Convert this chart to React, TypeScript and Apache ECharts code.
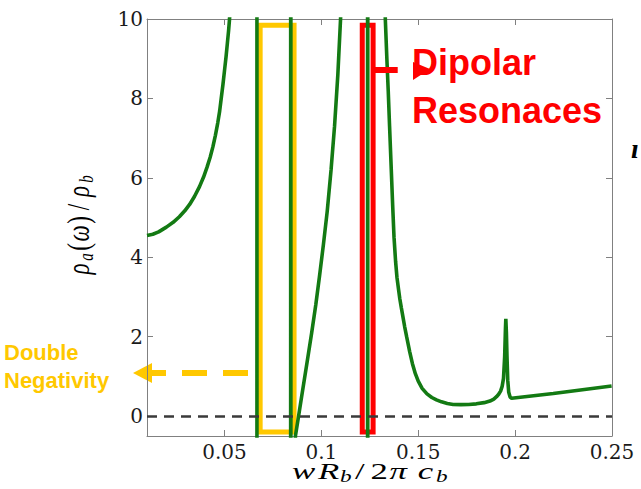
import React, { useEffect, useRef } from "react";
import * as echarts from "echarts";

// ---- data ----
const xValues = [
  0.01, 0.013, 0.016, 0.02, 0.0235, 0.0267, 0.0295, 0.032, 0.0345, 0.0371, 0.0392, 0.041, 0.0426, 0.044,
  0.0453, 0.0465, 0.0475, 0.0483, 0.0492, 0.05, 0.0508, 0.0515, 0.0521, 0.0526, 0.0545,
  0.058, 0.062, 0.0667, 0.0668, 0.0841, 0.0842, 0.0843, 0.0855,
  0.0866, 0.088, 0.09, 0.0925, 0.095, 0.0971, 0.0991, 0.101, 0.103, 0.105, 0.1068, 0.1085, 0.1099,
  0.112, 0.118, 0.1238, 0.1239, 0.124, 0.129, 0.1315,
  0.133, 0.1338, 0.1345, 0.1352, 0.136, 0.1368, 0.1375, 0.1383, 0.139, 0.1398, 0.1405, 0.1413, 0.1421,
  0.143, 0.144, 0.1456, 0.147, 0.1485, 0.15, 0.152, 0.1545, 0.157, 0.1594, 0.162, 0.165, 0.168, 0.172,
  0.176, 0.18, 0.184, 0.187, 0.189, 0.1904, 0.1915, 0.1925, 0.1933, 0.194, 0.1946, 0.195, 0.1952,
  0.1955, 0.1958, 0.1962, 0.1967, 0.1974, 0.1982, 0.2197, 0.2498,
];
const rhoValues = [
  4.55, 4.58, 4.64, 4.76, 4.88, 5.02, 5.17, 5.33, 5.53, 5.78, 6.02, 6.27, 6.52, 6.78,
  7.07, 7.38, 7.68, 8.0, 8.35, 8.7, 9.05, 9.4, 9.7, 10.0, 11.6,
  15, 25, 80, -80, -80, 80, -40, -3,
  -0.5, -0.07, 0.55, 1.32, 2.1, 2.8, 3.55, 4.3, 5.15, 6.2, 7.3, 8.6, 10.0,
  12.5, 25, 80, -80, 80, 25, 13.5,
  10.0, 9.0, 8.2, 7.3, 6.3, 5.3, 4.5, 3.9, 3.5, 3.2, 2.95, 2.72, 2.5,
  2.25, 2.0, 1.62, 1.32, 1.07, 0.88, 0.7, 0.56, 0.47, 0.41, 0.36, 0.32, 0.295, 0.29,
  0.295, 0.31, 0.34, 0.38, 0.43, 0.49, 0.55, 0.63, 0.75, 0.95, 1.5, 2.2, 2.45,
  2.1, 1.5, 0.9, 0.6, 0.48, 0.45, 0.57, 0.76,
];
const xTicks = [0.05, 0.1, 0.15, 0.2, 0.25];
const xTickLabels = ["0.05", "0.1", "0.15", "0.2", "0.25"];
const yTicks = [0, 2, 4, 6, 8, 10];
const yTickLabels = ["0", "2", "4", "6", "8", "10"];
const xRange = [0.01, 0.25];
const yRange = [-0.5, 10];
const doubleNegBandX = [0.0684, 0.0859];
const dipolarBandX = [0.1211, 0.1267];
const bandY = [-0.4, 9.84];
const dipolarPointerX = [0.1267, 0.1394];
const dipolarPointerY = 8.715;

const GREEN = "#137a13";
const YELLOW = "#FFC800";
const RED = "#FF0000";
const AXIS = "#808080";

function labelFor(ticks: number[], labels: string[]) {
  return (v: number) => {
    const i = ticks.findIndex((t) => Math.abs(t - v) < 1e-9);
    return i >= 0 ? labels[i] : "";
  };
}

export default function App() {
  const ref = useRef<HTMLDivElement>(null);
  useEffect(() => {
    if (!ref.current) return;
    const chart = echarts.init(ref.current, undefined, { renderer: "svg" });
    const data = xValues.map((x, i) => [x, rhoValues[i]]);
    const tickFont = { fontFamily: "DejaVu Serif", fontSize: 20, color: "#1a1a1a" };
    const mathI = { fontFamily: "Liberation Serif", fontStyle: "italic", fontSize: 24, lineHeight: 26, color: "#111" };
    const mathN = { fontFamily: "Liberation Serif", fontSize: 24, lineHeight: 26, color: "#111" };
    const mathS = { fontFamily: "Liberation Serif", fontStyle: "italic", fontSize: 16, lineHeight: 12, verticalAlign: "bottom", color: "#111" };

    chart.setOption({
      animation: false,
      backgroundColor: "#ffffff",
      grid: { left: 147, top: 19, width: 465, height: 417, containLabel: false },
      xAxis: [
        {
          type: "value",
          min: xRange[0],
          max: xRange[1],
          position: "bottom",
          axisLine: { show: true, onZero: false, lineStyle: { color: AXIS, width: 1 } },
          axisTick: { show: true, inside: true, length: 6, customValues: xTicks, lineStyle: { color: AXIS } },
          axisLabel: { show: true, customValues: xTicks, margin: 6, formatter: labelFor(xTicks, xTickLabels), ...tickFont },
          splitLine: { show: false },
        },
        {
          type: "value",
          min: xRange[0],
          max: xRange[1],
          position: "top",
          axisLine: { show: true, onZero: false, lineStyle: { color: AXIS, width: 1 } },
          axisTick: { show: true, inside: true, length: 6, customValues: xTicks, lineStyle: { color: AXIS } },
          axisLabel: { show: false },
          splitLine: { show: false },
        },
      ],
      yAxis: [
        {
          type: "value",
          min: yRange[0],
          max: yRange[1],
          position: "left",
          axisLine: { show: true, onZero: false, lineStyle: { color: AXIS, width: 1 } },
          axisTick: { show: true, inside: true, length: 6, customValues: yTicks, lineStyle: { color: AXIS } },
          axisLabel: { show: true, customValues: yTicks, margin: 4, formatter: labelFor(yTicks, yTickLabels), ...tickFont },
          splitLine: { show: false },
        },
        {
          type: "value",
          min: yRange[0],
          max: yRange[1],
          position: "right",
          axisLine: { show: true, onZero: false, lineStyle: { color: AXIS, width: 1 } },
          axisTick: { show: true, inside: true, length: 6, customValues: yTicks, lineStyle: { color: AXIS } },
          axisLabel: { show: false },
          splitLine: { show: false },
        },
      ],
      series: [
        {
          type: "line",
          data,
          xAxisIndex: 0,
          yAxisIndex: 0,
          showSymbol: false,
          clip: true,
          lineStyle: { color: GREEN, width: 3.6 },
          markLine: {
            silent: true,
            symbol: ["none", "none"],
            label: { show: false },
            data: [
              { yAxis: 0, lineStyle: { color: "#3a3a3a", width: 2.5, type: [10, 7] } },
              [
                { coord: [dipolarPointerX[0], dipolarPointerY], lineStyle: { color: RED, width: 6, type: "solid" } },
                { coord: [dipolarPointerX[1], dipolarPointerY] },
              ],
            ],
          },
          markArea: {
            silent: true,
            data: [
              [
                { xAxis: doubleNegBandX[0], yAxis: bandY[0], itemStyle: { color: "rgba(0,0,0,0)", borderColor: YELLOW, borderWidth: 5 } },
                { xAxis: doubleNegBandX[1], yAxis: bandY[1] },
              ],
              [
                { xAxis: dipolarBandX[0], yAxis: bandY[0], itemStyle: { color: "rgba(0,0,0,0)", borderColor: RED, borderWidth: 5 } },
                { xAxis: dipolarBandX[1], yAxis: bandY[1] },
              ],
            ],
          },
        },
      ],
      graphic: [
        // y-axis title (rotated)
        {
          type: "text",
          x: 79,
          y: 224.5,
          rotation: Math.PI / 2,
          scaleY: 1.35,
          style: {
            text: "{i1|ρ}{s1|a}{n1|(}{i2|ω}{n2|)}{n3|/}{i3|ρ}{s2|b}",
            align: "center",
            verticalAlign: "middle",
            rich: {
              i1: { ...mathI, fontSize: 23, width: 13 },
              s1: { ...mathS, fontSize: 15, width: 11 },
              n1: { ...mathN, fontSize: 23, width: 9 },
              i2: { ...mathI, fontSize: 23, width: 18 },
              n2: { ...mathN, fontSize: 23, width: 9 },
              n3: { ...mathN, fontSize: 23, width: 17 },
              i3: { ...mathI, fontSize: 23, width: 14 },
              s2: { ...mathS, fontSize: 15, width: 11 },
            },
          },
        },
        // x-axis title
        {
          type: "text",
          x: 292,
          y: 471,
          scaleX: 1.45,
          style: {
            text: "{i1|w}{i2|R}{s1|b}{n1|/}{n2|2}{i3|π}{i4|c}{s2|b}",
            align: "left",
            verticalAlign: "middle",
            rich: {
              i1: { ...mathI, width: 17.9 },
              i2: { ...mathI, width: 15.2 },
              s1: { ...mathS, width: 10.3 },
              n1: { ...mathN, width: 10.8 },
              n2: { ...mathN, width: 13.1 },
              i3: { ...mathI, width: 19.5 },
              i4: { ...mathI, width: 12.5 },
              s2: { ...mathS, width: 13.8 },
            },
          },
        },
        // red arrowhead near "Dipolar"
        {
          type: "polygon",
          shape: { points: [[413, 62], [413, 80], [430, 69]] },
          style: { fill: RED },
        },
        {
          type: "text",
          x: 412,
          y: 62.5,
          style: { text: "Dipolar", fill: RED, fontFamily: "Liberation Sans", fontWeight: "bold", fontSize: 36, verticalAlign: "middle" },
        },
        {
          type: "text",
          x: 412,
          y: 110.5,
          style: { text: "Resonaces", fill: RED, fontFamily: "Liberation Sans", fontWeight: "bold", fontSize: 36, verticalAlign: "middle" },
        },
        // yellow dashed arrow
        {
          type: "line",
          shape: { x1: 248, y1: 373, x2: 150, y2: 373 },
          style: { stroke: YELLOW, lineWidth: 6, lineDash: [25, 16] },
        },
        {
          type: "polygon",
          shape: { points: [[133, 373], [152, 363], [152, 383]] },
          style: { fill: YELLOW },
        },
        {
          type: "text",
          x: 4,
          y: 352.5,
          style: { text: "Double", fill: YELLOW, fontFamily: "Liberation Sans", fontWeight: "bold", fontSize: 22, verticalAlign: "middle" },
        },
        {
          type: "text",
          x: 4,
          y: 380.5,
          style: { text: "Negativity", fill: YELLOW, fontFamily: "Liberation Sans", fontWeight: "bold", fontSize: 22, verticalAlign: "middle" },
        },
        // partial glyph at right edge
        {
          type: "text",
          x: 631,
          y: 148,
          style: { text: "ı", fill: "#000", fontFamily: "Liberation Serif", fontStyle: "italic", fontWeight: "bold", fontSize: 28, verticalAlign: "middle" },
        },
      ],
    });
    return () => chart.dispose();
  }, []);
  return (
    <div
      ref={ref}
      style={{ position: "absolute", left: 0, top: 0, width: 641, height: 489, background: "#fff" }}
    />
  );
}
